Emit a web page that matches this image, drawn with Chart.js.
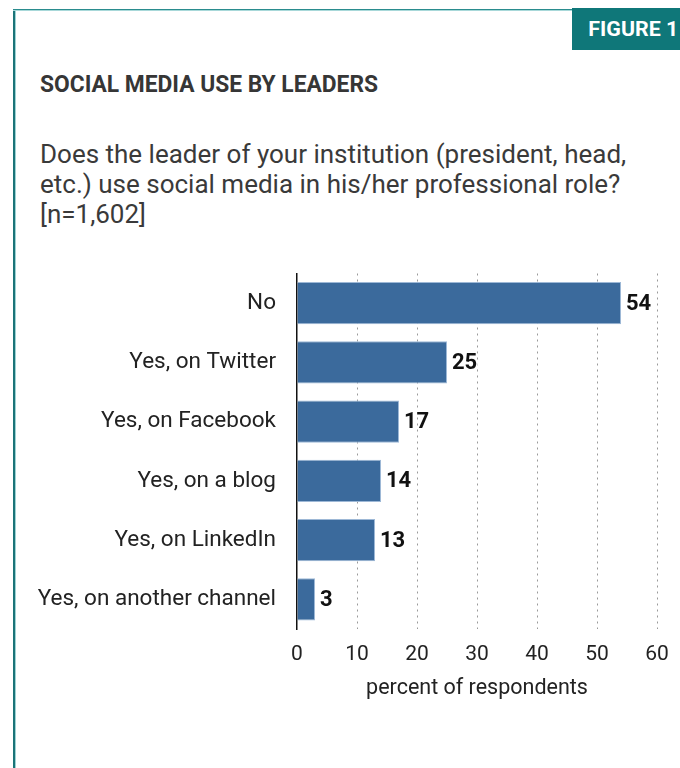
<!DOCTYPE html>
<html>
<head>
<meta charset="utf-8">
<script src="https://cdn.jsdelivr.net/npm/chart.js@4/dist/chart.umd.min.js"></script>
<style>
  html, body { margin: 0; padding: 0; background: #fff; }
  body { width: 680px; height: 768px; position: relative; overflow: hidden; font-family: Roboto, sans-serif; }
  .frame-left { position: absolute; left: 13px; top: 9px; width: 2px; height: 760px; background: #1b7478; border-right: 1px solid #9fd3d4; }
  .frame-top { position: absolute; left: 13px; top: 9px; width: 560px; height: 1px; background: #2a8c8e; border-bottom: 1px solid #a8d8d9; }
  .fig-box { position: absolute; left: 572px; top: 8px; width: 108px; height: 42px; background: #0f7779; }
  .fig-text { position: absolute; right: 2px; top: 9px; color: #fff; font-weight: bold; font-size: 21px; white-space: nowrap; transform-origin: right top; }
  .title { position: absolute; left: 40px; top: 70px; font-weight: bold; font-size: 24px; color: #363636; white-space: nowrap; transform-origin: left top; }
  .subtitle { position: absolute; left: 40px; top: 139px; font-size: 26px; line-height: 30px; color: #3a3a3a; white-space: nowrap; }
  #wrap { position: absolute; left: 0; top: 260px; width: 680px; height: 444px; }
</style>
</head>
<body>
<div class="frame-left"></div>
<div class="frame-top"></div>
<div class="fig-box"><span class="fig-text" id="figText">FIGURE 1</span></div>
<div class="title" id="title">SOCIAL MEDIA USE BY LEADERS</div>
<div class="subtitle">Does the leader of your institution (president, head,<br>etc.) use social media in his/her professional role?<br>[n=1,602]</div>
<div id="wrap"><canvas id="myChart"></canvas></div>

<script>
const categories = ['No', 'Yes, on Twitter', 'Yes, on Facebook', 'Yes, on a blog', 'Yes, on LinkedIn', 'Yes, on another channel'];
const percents = [54, 25, 17, 14, 13, 3];
const xTicks = [0, 10, 20, 30, 40, 50, 60];

// squeeze bold headings to look like the condensed face in the original
function condense(id, targetWidth) {
    const el = document.getElementById(id);
    const w = el.getBoundingClientRect().width;
    if (w > 0) el.style.transform = 'scaleX(' + (targetWidth / w) + ')';
}
condense('title', 338);
condense('figText', 90);

const valueLabels = {
    id: 'valueLabels',
    afterDatasetsDraw(chart) {
        const ctx = chart.ctx;
        const meta = chart.getDatasetMeta(0);
        ctx.save();
        ctx.font = 'bold 22px Roboto';
        ctx.textAlign = 'left';
        ctx.textBaseline = 'middle';
        ctx.lineJoin = 'round';
        meta.data.forEach((bar, i) => {
            const txt = String(chart.data.datasets[0].data[i]);
            ctx.lineWidth = 3;
            ctx.strokeStyle = '#fff';
            ctx.strokeText(txt, bar.x + 5, bar.y + 1);
            ctx.fillStyle = '#111';
            ctx.fillText(txt, bar.x + 5, bar.y + 1);
        });
        ctx.restore();
    }
};

const ctx = document.getElementById('myChart');

new Chart(ctx, {
    type: 'bar',
    data: {
        labels: categories,
        datasets: [{
            data: percents,
            backgroundColor: '#3b6a9c',
            borderColor: '#9db8d6',
            borderWidth: 1,
            borderSkipped: 'left',
            barPercentage: 0.71,
            categoryPercentage: 1
        }]
    },
    options: {
        indexAxis: 'y',
        responsive: true,
        maintainAspectRatio: false,
        animation: false,
        layout: {
            padding: { top: 13, right: 23, bottom: 2, left: 0 }
        },
        plugins: {
            legend: { display: false },
            tooltip: { enabled: false }
        },
        scales: {
            x: {
                min: 0,
                max: 60,
                afterBuildTicks(scale) {
                    scale.ticks = xTicks.map(v => ({ value: v }));
                },
                grid: {
                    color: c => (c.tick && c.tick.value === 0) ? 'rgba(0,0,0,0)' : '#9a9a9a',
                    lineWidth: 1,
                    drawTicks: true,
                    tickLength: 13,
                    tickColor: 'rgba(0,0,0,0)'
                },
                border: { display: false, dash: [2, 4] },
                ticks: {
                    color: '#222',
                    font: { family: 'Roboto', size: 21 },
                    padding: 0,
                    maxRotation: 0
                },
                title: {
                    display: true,
                    text: 'percent of respondents',
                    color: '#222',
                    font: { family: 'Roboto', size: 21.5 },
                    padding: { top: 9, bottom: 0 }
                }
            },
            y: {
                afterFit(scale) {
                    scale.width = 297;
                },
                grid: {
                    display: true,
                    color: 'rgba(0,0,0,0)',
                    drawTicks: true,
                    tickLength: 21,
                    tickColor: 'rgba(0,0,0,0)'
                },
                border: { display: true, color: '#111', width: 1.5 },
                ticks: {
                    color: '#222',
                    font: { family: 'Roboto', size: 22.5 },
                    padding: 0
                }
            }
        }
    },
    plugins: [valueLabels]
});
</script>
</body>
</html>
